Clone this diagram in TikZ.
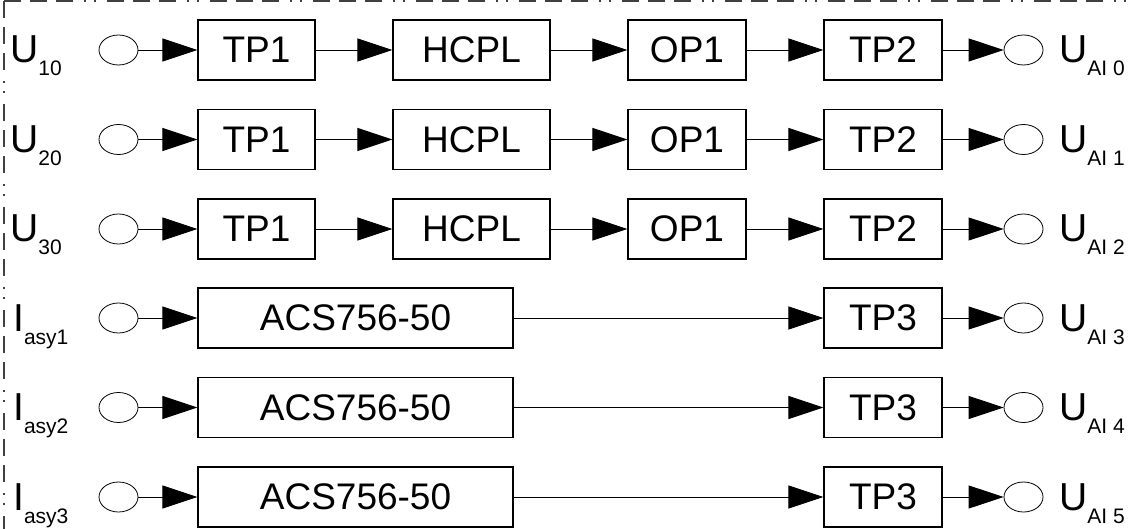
\documentclass[tikz,border=0pt]{standalone}
\usepackage{fontspec}
\setmainfont{Liberation Sans}
\usetikzlibrary{arrows.meta,shapes.geometric}
\newcommand\sublbl[2]{{\fontsize{39}{42}\selectfont #1}\raisebox{-13pt}{\fontsize{21}{23}\selectfont #2}}
\begin{document}
\begin{tikzpicture}[x=1pt,y=-1pt,
  blk/.style={draw, line width=1.2pt, minimum height=60pt, inner sep=0pt, font=\fontsize{37}{40}\selectfont},
  term/.style={draw, ellipse, minimum width=39pt, minimum height=30pt, inner sep=0pt, line width=0.8pt},
  conn/.style={line width=0.9pt, -{Triangle[length=35pt,width=23pt]}},
  lbl/.style={anchor=base west, inner sep=0pt},
  frame/.style={draw=black!75, line width=1.8pt, dash pattern=on 17pt off 9pt on 17pt off 9pt on 17pt off 11pt on 2pt off 8pt on 2pt off 11pt}
]
\useasboundingbox (0,0) rectangle (1132,529);
\draw[frame] (4,1.2) -- (1132,1.2);
\draw[frame] (4,1.2) -- (4,529);

% rows with TP1-HCPL-OP1-TP2
\foreach \i/\y/\s/\o in {1/50/10/0, 2/139.5/20/1, 3/229/30/2}{
  \node[lbl] (L\i) at (10,\y+13) {\sublbl{U}{\s}};
  \node[term] (a\i) at (118.5,\y) {};
  \node[blk, minimum width=117pt] (tpa\i) at (256.5,\y) {TP1};
  \node[blk, minimum width=157pt] (hc\i) at (471.5,\y) {HCPL};
  \node[blk, minimum width=118pt] (op\i) at (687,\y) {OP1};
  \node[blk, minimum width=118pt] (tpb\i) at (883,\y) {TP2};
  \node[term] (b\i) at (1023.5,\y) {};
  \node[lbl] (R\i) at (1059,\y+13) {\sublbl{U}{AI \o}};
  \draw[conn] (a\i) -- (tpa\i);
  \draw[conn] (tpa\i) -- (hc\i);
  \draw[conn] (hc\i) -- (op\i);
  \draw[conn] (op\i) -- (tpb\i);
  \draw[conn] (tpb\i) -- (b\i);
}
% rows with ACS756-50 - TP3
\foreach \i/\y/\s/\o in {4/318/1/3, 5/407.5/2/4, 6/497/3/5}{
  \node[lbl] (L\i) at (13,\y+13) {\sublbl{I}{asy\s}};
  \node[term] (a\i) at (118.5,\y) {};
  \node[blk, minimum width=315pt] (acs\i) at (355.5,\y) {ACS756-50};
  \node[blk, minimum width=118pt] (tpc\i) at (883,\y) {TP3};
  \node[term] (b\i) at (1023.5,\y) {};
  \node[lbl] (R\i) at (1059,\y+13) {\sublbl{U}{AI \o}};
  \draw[conn] (a\i) -- (acs\i);
  \draw[conn] (acs\i) -- (tpc\i);
  \draw[conn] (tpc\i) -- (b\i);
}
\end{tikzpicture}
\end{document}
